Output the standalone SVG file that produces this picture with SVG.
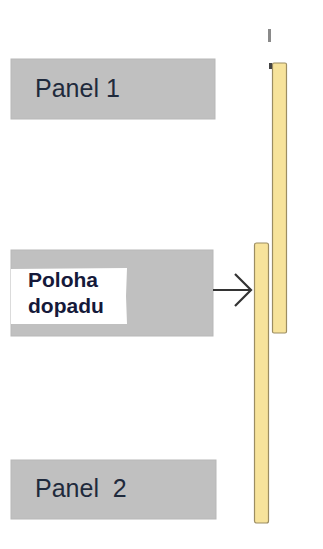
<svg xmlns="http://www.w3.org/2000/svg" width="323" height="549" viewBox="0 0 323 549">
<style>
.panel{fill:#c0c0c0;stroke:#b8b8b8;stroke-width:1}
.lbl{font-family:"Liberation Sans",Arial,sans-serif;font-size:25px;fill:#1f2a3c}
.bold{font-family:"Liberation Sans",Arial,sans-serif;font-size:21px;font-weight:bold;fill:#15193a}
.bar{fill:#f7e39b;stroke:#9c8d62;stroke-width:1.2}
.conn{stroke:#333;stroke-width:2.2;fill:none}
</style>
<rect width="323" height="549" fill="#fff"/>
<g id="panel1">
<rect class="panel" x="11" y="59" width="204" height="60"/>
<text class="lbl" x="35" y="97">Panel 1</text>
</g>
<g id="impact">
<rect class="panel" x="11" y="250" width="202" height="86"/>
<path d="M11 269 L127 268 L126 296 L127 324 L11 324 Z" fill="#fff"/>
<text class="bold" x="28" y="287">Poloha</text>
<text class="bold" x="28" y="313">dopadu</text>
</g>
<g id="panel2">
<rect class="panel" x="11" y="460" width="205" height="59"/>
<text class="lbl" x="35" y="497" xml:space="preserve">Panel  2</text>
</g>
<g id="bar1">
<rect x="268" y="29" width="3" height="13" fill="#8a8a8a"/>
<rect class="bar" x="272.5" y="63" width="14" height="270" rx="1.5"/>
<rect x="269" y="63" width="3" height="6" fill="#444"/>
</g>
<g id="bar2">
<rect class="bar" x="254.5" y="243" width="14" height="280" rx="2"/>
</g>
<g id="connectors">
<path class="conn" d="M213 290 L251 290"/>
<path class="conn" d="M235 274 L251 290 L235 306"/>
</g>
</svg>
